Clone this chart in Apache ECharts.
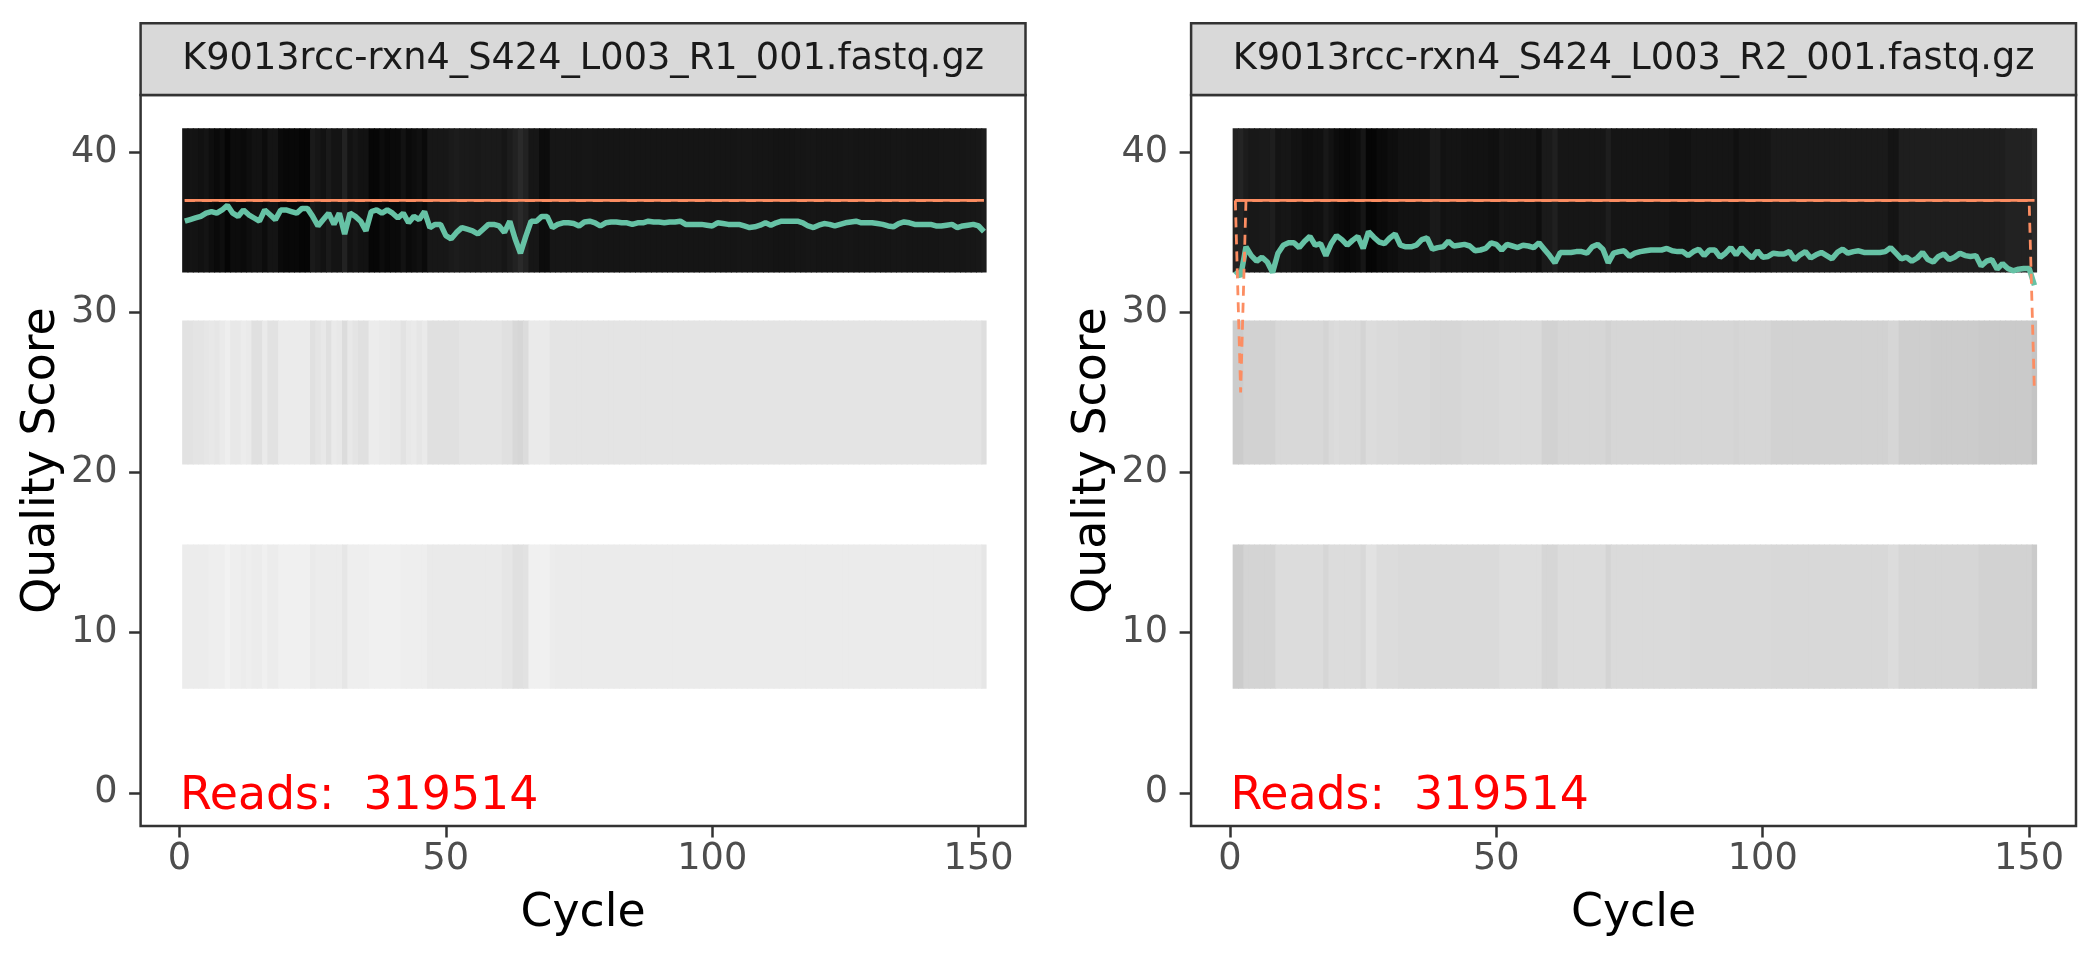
<!DOCTYPE html>
<html><head><meta charset="utf-8">
<script src="https://cdn.jsdelivr.net/npm/echarts@6/dist/echarts.min.js"></script>
<style>html,body{margin:0;padding:0;background:#fff}#c{width:2100px;height:960px}</style>
</head><body><div id="c"></div>
<script>
// ---------------- DATA ----------------
const stripTitles = ["K9013rcc-rxn4_S424_L003_R1_001.fastq.gz", "K9013rcc-rxn4_S424_L003_R2_001.fastq.gz"];
const readCounts = [319514, 319514];
const xTicks = [0, 50, 100, 150];
const yTicks = [0, 10, 20, 30, 40];
const qualityBins = [37, 25, 11];
const cycles = Array.from({length: 151}, (_, i) => i + 1);

// mean quality per cycle
const r1Mean = [35.7,35.8,35.9,36.0,36.2,36.3,36.2,36.4,36.7,36.2,
36.0,36.4,36.1,35.9,35.7,36.4,36.1,35.8,36.4,36.4,
36.3,36.2,36.5,36.5,36.0,35.4,35.8,36.2,35.5,36.2,
34.9,36.2,36.0,35.7,35.1,36.3,36.4,36.2,36.4,36.2,
35.9,36.2,35.6,36.0,35.8,36.3,35.3,35.5,35.5,34.8,
34.6,35.0,35.3,35.2,35.1,34.9,35.2,35.5,35.5,35.4,
35.0,35.7,34.6,33.7,34.75,35.7,35.7,36.0,36.0,35.3,
35.5,35.6,35.6,35.55,35.4,35.65,35.7,35.6,35.4,35.6,
35.65,35.65,35.6,35.6,35.5,35.6,35.6,35.7,35.65,35.65,
35.6,35.65,35.65,35.7,35.5,35.5,35.5,35.5,35.45,35.4,
35.6,35.55,35.5,35.5,35.5,35.4,35.3,35.35,35.45,35.6,
35.45,35.6,35.7,35.7,35.7,35.7,35.6,35.4,35.3,35.45,
35.55,35.5,35.4,35.5,35.6,35.65,35.7,35.6,35.6,35.6,
35.55,35.5,35.4,35.35,35.55,35.65,35.6,35.5,35.5,35.5,
35.5,35.4,35.4,35.45,35.5,35.3,35.4,35.45,35.5,35.4,
35.05];
const r2Mean = [32.6,32.25,34.1,33.55,33.2,33.45,33.15,32.5,33.7,34.2,
34.35,34.35,34.05,34.45,34.75,34.2,34.3,33.55,34.3,34.8,
34.55,34.2,34.5,34.75,34.0,35.05,34.7,34.4,34.3,34.65,
34.9,34.2,34.1,34.1,34.2,34.55,34.65,33.95,34.05,34.1,
34.45,34.15,34.2,34.25,34.15,33.85,33.9,34.0,34.35,34.25,
33.9,34.25,34.15,34.05,34.2,34.15,34.05,34.35,33.95,33.55,
33.1,33.75,33.75,33.75,33.8,33.8,33.7,34.1,34.25,33.95,
33.1,33.7,33.8,33.85,33.5,33.7,33.8,33.85,33.9,33.9,
33.9,34.0,33.85,33.8,33.8,33.55,33.8,33.95,33.55,33.9,
33.9,33.45,33.7,34.05,33.6,34.05,33.7,33.4,33.85,33.45,
33.5,33.7,33.65,33.65,33.8,33.3,33.6,33.8,33.4,33.6,
33.75,33.55,33.35,33.75,33.95,33.7,33.8,33.85,33.75,33.75,
33.75,33.75,33.8,34.05,33.7,33.35,33.45,33.2,33.4,33.75,
33.3,33.15,33.5,33.65,33.3,33.45,33.7,33.55,33.5,33.55,
32.9,33.2,33.3,32.7,33.05,32.75,32.6,32.7,32.75,32.75,
31.7];

// quartiles per cycle
const r1Q25 = [37,37,37,37,37,37,37,37,37,37,37,37,37,37,37,37,37,37,37,37,37,37,37,37,37,37,37,37,37,37,
37,37,37,37,37,37,37,37,37,37,37,37,37,37,37,37,37,37,37,37,37,37,37,37,37,37,37,37,37,37,
37,37,37,37,37,37,37,37,37,37,37,37,37,37,37,37,37,37,37,37,37,37,37,37,37,37,37,37,37,37,
37,37,37,37,37,37,37,37,37,37,37,37,37,37,37,37,37,37,37,37,37,37,37,37,37,37,37,37,37,37,
37,37,37,37,37,37,37,37,37,37,37,37,37,37,37,37,37,37,37,37,37,37,37,37,37,37,37,37,37,37,37];
const r1Q50 = [37,37,37,37,37,37,37,37,37,37,37,37,37,37,37,37,37,37,37,37,37,37,37,37,37,37,37,37,37,37,
37,37,37,37,37,37,37,37,37,37,37,37,37,37,37,37,37,37,37,37,37,37,37,37,37,37,37,37,37,37,
37,37,37,37,37,37,37,37,37,37,37,37,37,37,37,37,37,37,37,37,37,37,37,37,37,37,37,37,37,37,
37,37,37,37,37,37,37,37,37,37,37,37,37,37,37,37,37,37,37,37,37,37,37,37,37,37,37,37,37,37,
37,37,37,37,37,37,37,37,37,37,37,37,37,37,37,37,37,37,37,37,37,37,37,37,37,37,37,37,37,37,37];
const r1Q75 = [37,37,37,37,37,37,37,37,37,37,37,37,37,37,37,37,37,37,37,37,37,37,37,37,37,37,37,37,37,37,
37,37,37,37,37,37,37,37,37,37,37,37,37,37,37,37,37,37,37,37,37,37,37,37,37,37,37,37,37,37,
37,37,37,37,37,37,37,37,37,37,37,37,37,37,37,37,37,37,37,37,37,37,37,37,37,37,37,37,37,37,
37,37,37,37,37,37,37,37,37,37,37,37,37,37,37,37,37,37,37,37,37,37,37,37,37,37,37,37,37,37,
37,37,37,37,37,37,37,37,37,37,37,37,37,37,37,37,37,37,37,37,37,37,37,37,37,37,37,37,37,37,37];
const r2Q25 = [37,25,37,37,37,37,37,37,37,37,37,37,37,37,37,37,37,37,37,37,37,37,37,37,37,37,37,37,37,37,
37,37,37,37,37,37,37,37,37,37,37,37,37,37,37,37,37,37,37,37,37,37,37,37,37,37,37,37,37,37,
37,37,37,37,37,37,37,37,37,37,37,37,37,37,37,37,37,37,37,37,37,37,37,37,37,37,37,37,37,37,
37,37,37,37,37,37,37,37,37,37,37,37,37,37,37,37,37,37,37,37,37,37,37,37,37,37,37,37,37,37,
37,37,37,37,37,37,37,37,37,37,37,37,37,37,37,37,37,37,37,37,37,37,37,37,37,37,37,37,37,37,25];
const r2Q50 = [37,37,37,37,37,37,37,37,37,37,37,37,37,37,37,37,37,37,37,37,37,37,37,37,37,37,37,37,37,37,
37,37,37,37,37,37,37,37,37,37,37,37,37,37,37,37,37,37,37,37,37,37,37,37,37,37,37,37,37,37,
37,37,37,37,37,37,37,37,37,37,37,37,37,37,37,37,37,37,37,37,37,37,37,37,37,37,37,37,37,37,
37,37,37,37,37,37,37,37,37,37,37,37,37,37,37,37,37,37,37,37,37,37,37,37,37,37,37,37,37,37,
37,37,37,37,37,37,37,37,37,37,37,37,37,37,37,37,37,37,37,37,37,37,37,37,37,37,37,37,37,37,37];
const r2Q75 = [37,37,37,37,37,37,37,37,37,37,37,37,37,37,37,37,37,37,37,37,37,37,37,37,37,37,37,37,37,37,
37,37,37,37,37,37,37,37,37,37,37,37,37,37,37,37,37,37,37,37,37,37,37,37,37,37,37,37,37,37,
37,37,37,37,37,37,37,37,37,37,37,37,37,37,37,37,37,37,37,37,37,37,37,37,37,37,37,37,37,37,
37,37,37,37,37,37,37,37,37,37,37,37,37,37,37,37,37,37,37,37,37,37,37,37,37,37,37,37,37,37,
37,37,37,37,37,37,37,37,37,37,37,37,37,37,37,37,37,37,37,37,37,37,37,37,37,37,37,37,37,37,37];

// tile fill level (0 = black, 255 = white) per cycle for each quality bin
const r1Q37Fill = [20,20,19,17,20,14,10,14,5,12,
12,10,14,18,18,12,20,20,10,8,
8,8,5,5,26,22,18,26,20,20,
34,18,22,18,18,6,6,12,8,10,
10,18,10,13,16,10,23,23,23,23,
26,28,26,26,25,24,26,26,26,26,
22,28,34,42,34,22,22,12,12,22,
22,22,22,21,21,22,22,21,21,21,
21,21,21,21,21,21,21,21,21,21,
21,21,21,21,21,21,21,21,21,21,
21,21,21,21,22,22,22,21,21,21,
21,20,20,20,20,21,21,22,22,21,
21,21,21,21,22,22,21,21,21,21,
21,21,21,22,22,22,21,21,21,21,
21,21,22,22,22,22,22,23,23,24,
28];
const r1Q25Fill = [226,226,228,228,230,232,230,234,238,232,
232,236,234,224,224,234,226,226,235,235,
235,235,235,235,224,228,232,224,234,232,
220,232,228,224,224,236,236,234,234,232,
232,226,232,234,230,234,224,224,224,224,
224,224,228,228,228,228,228,228,228,228,
224,224,216,214,220,234,234,234,234,228,
228,228,228,228,228,228,228,228,228,228,
228,228,228,228,228,228,228,228,228,228,
228,228,228,228,228,228,228,228,228,228,
228,228,228,228,228,228,228,228,228,228,
228,228,228,228,228,228,228,228,228,228,
228,228,228,228,228,228,228,228,228,228,
228,228,228,228,228,228,228,228,228,228,
228,228,228,228,228,228,228,228,228,228,
222];
const r1Q11Fill = [236,236,236,236,236,238,238,238,242,238,
238,236,238,236,236,240,236,236,240,240,
240,240,240,240,234,236,236,236,236,236,
230,238,238,238,238,240,240,240,240,240,
240,238,238,238,238,238,234,234,234,234,
234,234,234,234,234,234,234,234,234,234,
230,230,224,224,226,240,240,240,240,236,
235,235,235,235,235,235,235,235,235,235,
235,235,235,235,235,235,235,235,235,235,
235,235,235,235,235,235,235,235,235,235,
235,235,235,235,235,235,235,235,235,235,
235,235,235,235,235,235,235,235,235,235,
235,235,235,235,235,235,235,235,235,235,
235,235,235,235,235,235,235,235,235,235,
235,235,235,235,235,235,235,235,235,235,
230];
const r2Q37Fill = [34,36,28,24,24,26,26,30,20,22,
22,18,18,14,14,16,16,24,18,12,
10,8,10,12,22,5,5,10,10,14,
14,18,18,18,18,18,18,26,26,18,
20,20,20,18,18,18,18,18,16,16,
22,20,20,20,20,20,20,14,26,26,
32,22,22,22,22,22,22,22,22,22,
30,21,21,21,21,21,21,21,21,21,
21,21,18,18,18,18,21,21,21,21,
21,21,21,21,16,21,21,21,21,21,
21,26,26,26,26,26,26,26,26,26,
26,26,26,26,26,26,26,26,26,26,
26,26,26,20,20,30,30,30,30,30,
30,30,30,30,30,30,30,30,30,30,
30,30,30,30,30,34,34,34,34,34,
42];
const r2Q25Fill = [204,204,210,210,210,210,210,210,216,216,
216,216,216,216,216,216,216,212,218,220,
218,218,218,218,212,220,220,218,218,218,
218,216,216,216,216,216,216,214,214,214,
214,214,214,216,216,216,216,216,216,216,
218,218,218,218,218,218,218,218,210,210,
210,214,214,214,214,214,214,214,214,214,
210,214,214,214,214,214,214,214,214,214,
214,214,214,214,214,214,214,214,214,214,
214,214,214,214,212,214,214,214,214,214,
214,210,210,210,210,210,210,210,210,210,
210,210,210,210,210,210,210,210,210,210,
210,210,210,214,214,206,206,206,206,206,
206,204,204,204,204,204,204,204,204,204,
202,202,202,202,202,202,202,202,202,202,
196];
const r2Q11Fill = [204,204,212,212,212,212,212,212,220,220,
220,220,220,220,220,220,220,214,220,220,
220,220,220,220,216,226,226,220,220,220,
220,218,218,218,218,218,218,218,218,218,
218,218,218,218,218,218,218,218,218,218,
222,222,222,222,222,222,222,222,214,214,
214,220,220,220,220,220,220,220,220,220,
212,218,218,218,218,218,218,218,218,218,
218,218,218,218,218,218,217,217,217,217,
217,217,217,217,217,217,217,217,217,217,
217,216,216,216,216,216,216,216,216,216,
216,216,216,216,216,216,216,216,216,216,
216,216,216,220,220,214,214,214,214,214,
214,214,214,214,214,214,214,214,214,214,
210,210,210,210,210,210,210,210,210,210,
202];

// ---------------- LAYOUT / STYLE ----------------
const FONT = "'DejaVu Sans', sans-serif";
const PANEL_LEFT = [140.6, 1191.1];
const PANEL_TOP = 95.1, PANEL_W = 884.9, PANEL_H = 730.9;
const STRIP_TOP = 23.3;
const TILE_H = 9;
const X_MIN = -7.3, X_MAX = 158.8, Y_MIN = -2.075, Y_MAX = 43.575;

const panels = [
  {mean: r1Mean, q25: r1Q25, q50: r1Q50, q75: r1Q75, fills: [r1Q37Fill, r1Q25Fill, r1Q11Fill]},
  {mean: r2Mean, q25: r2Q25, q50: r2Q50, q75: r2Q75, fills: [r2Q37Fill, r2Q25Fill, r2Q11Fill]}
];

const grid = [], xAxis = [], yAxis = [], series = [], graphic = [];
panels.forEach((p, k) => {
  grid.push({left: PANEL_LEFT[k], top: PANEL_TOP, width: PANEL_W, height: PANEL_H,
    show: true, borderColor: '#333333', borderWidth: 2.5, backgroundColor: '#ffffff', containLabel: false});
  xAxis.push({type: 'value', gridIndex: k, min: X_MIN, max: X_MAX, position: 'bottom',
    axisLine: {show: false, onZero: false}, splitLine: {show: false},
    axisTick: {show: true, inside: false, length: 11.5, customValues: xTicks, lineStyle: {color: '#333333', width: 2.5}},
    axisLabel: {customValues: xTicks, fontSize: 36.7, color: '#4D4D4D', fontFamily: FONT, margin: 15},
    name: 'Cycle', nameLocation: 'middle', nameGap: 65,
    nameTextStyle: {fontSize: 45.8, color: '#000000', fontFamily: FONT}});
  yAxis.push({type: 'value', gridIndex: k, min: Y_MIN, max: Y_MAX, position: 'left',
    axisLine: {show: false, onZero: false}, splitLine: {show: false},
    axisTick: {show: true, inside: false, length: 11.5, customValues: yTicks, lineStyle: {color: '#333333', width: 2.5}},
    axisLabel: {customValues: yTicks, fontSize: 36.7, color: '#4D4D4D', fontFamily: FONT, margin: 23, padding: [3, 0, 0, 0]},
    name: 'Quality Score', nameLocation: 'middle', nameRotate: 90, nameGap: 75,
    nameTextStyle: {fontSize: 45.8, color: '#000000', fontFamily: FONT}});

  const tileData = [];
  qualityBins.forEach((q, b) => {
    cycles.forEach((c, i) => tileData.push([c, q, p.fills[b][i]]));
  });
  series.push({type: 'custom', xAxisIndex: k, yAxisIndex: k, data: tileData, silent: true, z: 1,
    renderItem: (params, api) => {
      const c = api.value(0), s = api.value(1), g = api.value(2);
      const a = api.coord([c - 0.5, s + TILE_H / 2]);
      const e = api.coord([c + 0.5, s - TILE_H / 2]);
      const last = c === cycles[cycles.length - 1];
      return {type: 'rect', shape: {x: a[0], y: a[1], width: e[0] - a[0] + (last ? 0 : 1), height: e[1] - a[1]},
        style: {fill: 'rgb(' + g + ',' + g + ',' + g + ')'}};
    }});
  const line = (vals, color, width, type, z) => ({type: 'line', xAxisIndex: k, yAxisIndex: k, z: z,
    data: cycles.map((c, i) => [c, vals[i]]), showSymbol: false, symbol: 'none', silent: true,
    lineStyle: {color: color, width: width, type: type, opacity: 1}});
  series.push(line(p.mean, '#66C2A5', 5.5, 'solid', 3));
  series.push(line(p.q25, '#FC8D62', 2.8, [10, 7], 4));
  series.push(line(p.q50, '#FC8D62', 2.8, 'solid', 4));
  series.push(line(p.q75, '#FC8D62', 2.8, [10, 7], 4));
  series.push({type: 'scatter', xAxisIndex: k, yAxisIndex: k, data: [[0, 0]], symbolSize: 1, silent: true, z: 5,
    itemStyle: {color: 'rgba(255,255,255,0)', opacity: 1},
    label: {show: true, position: 'right', distance: 0, offset: [0, 4], formatter: 'Reads:  ' + readCounts[k],
      color: '#FF0000', opacity: 1, fontSize: 45.8, fontFamily: FONT}});

  graphic.push({type: 'rect', shape: {x: PANEL_LEFT[k], y: STRIP_TOP, width: PANEL_W, height: PANEL_TOP - STRIP_TOP},
    style: {fill: '#D9D9D9', stroke: '#333333', lineWidth: 2.5}, z: 10});
  graphic.push({type: 'text', x: PANEL_LEFT[k] + PANEL_W / 2, y: (STRIP_TOP + PANEL_TOP) / 2,
    style: {text: stripTitles[k], fontSize: 36.7, fontFamily: FONT, fill: '#1A1A1A', align: 'center', verticalAlign: 'middle'}, z: 11});
});

const chart = echarts.init(document.getElementById('c'), null, {renderer: 'canvas', width: 2100, height: 960});
chart.setOption({animation: false, backgroundColor: '#ffffff', textStyle: {fontFamily: FONT},
  grid, xAxis, yAxis, series, graphic});
</script></body></html>
